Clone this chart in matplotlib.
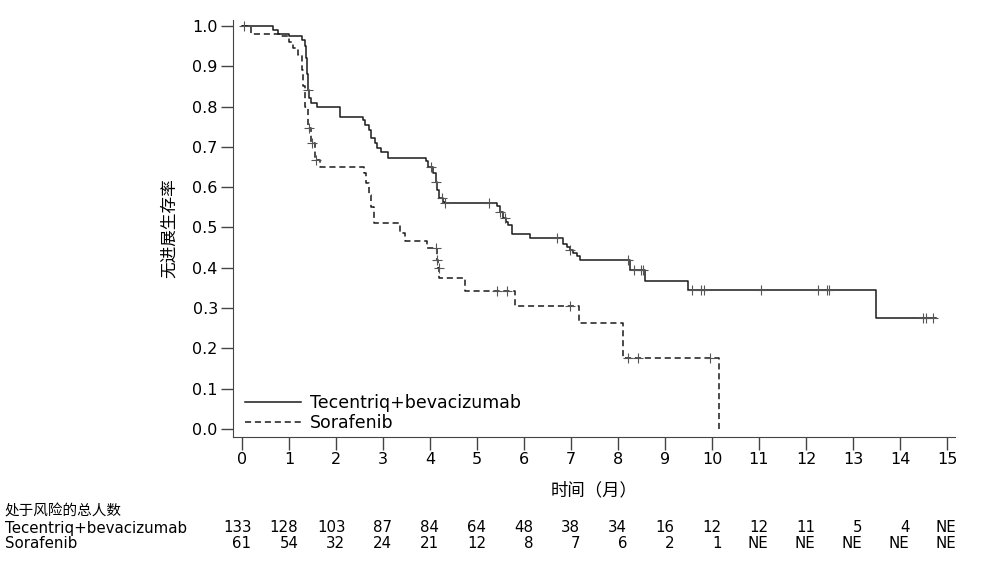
import numpy as np
import matplotlib
matplotlib.use("Agg")
import matplotlib.pyplot as plt
from matplotlib.lines import Line2D
from matplotlib.transforms import blended_transform_factory

plt.rcParams['font.family'] = ['DejaVu Sans', 'Noto Sans CJK SC']

# Kaplan-Meier steps (time in months, survival)
tec_t = [0, 0.66, 0.77, 1.0, 1.27, 1.34, 1.37, 1.39, 1.41, 1.43, 1.47, 1.59,
         2.09, 2.57, 2.61, 2.70, 2.74, 2.83, 2.87, 2.95, 3.11,
         3.91, 3.96, 4.07, 4.13, 4.16, 4.20, 4.27, 4.32,
         5.42, 5.49, 5.55, 5.62, 5.67, 5.74, 6.13,
         6.84, 6.91, 6.98, 7.05, 7.12, 7.19, 8.26, 8.57, 9.50, 13.5, 14.77]
tec_s = [1.0, 0.99, 0.98, 0.975, 0.965, 0.95, 0.92, 0.88, 0.84, 0.82, 0.81, 0.80,
         0.775, 0.767, 0.754, 0.742, 0.722, 0.71, 0.697, 0.688, 0.673,
         0.666, 0.651, 0.634, 0.614, 0.593, 0.572, 0.564, 0.56,
         0.552, 0.539, 0.523, 0.514, 0.506, 0.483, 0.473,
         0.46, 0.452, 0.444, 0.436, 0.428, 0.418, 0.394, 0.368, 0.345, 0.276, 0.276]
tec_cens = [0.05, 1.41, 4.03, 4.13, 4.25, 4.32, 5.26, 5.49, 5.60, 6.70, 6.98,
            8.21, 8.35, 8.50, 8.54, 9.57, 9.77, 9.83, 11.04, 12.26, 12.44, 12.50,
            14.48, 14.55, 14.70]

sor_t = [0, 0.2, 0.82, 1.0, 1.09, 1.19, 1.27, 1.30, 1.35, 1.41, 1.47, 1.55, 1.66,
         2.60, 2.64, 2.70, 2.75, 2.80, 3.36, 3.47, 3.94, 4.15, 4.18, 4.20,
         4.74, 5.81, 7.18, 8.11, 10.15]
sor_s = [1.0, 0.98, 0.975, 0.96, 0.945, 0.928, 0.89, 0.85, 0.80, 0.747, 0.71, 0.667, 0.651,
         0.635, 0.61, 0.58, 0.55, 0.51, 0.487, 0.466, 0.448, 0.42, 0.40, 0.374,
         0.343, 0.304, 0.262, 0.175, 0.0]
sor_cens = [1.43, 1.48, 1.57, 4.13, 4.16, 4.19, 5.42, 5.63, 6.98, 8.22, 8.43, 9.96]

# numbers at risk
risk_times = list(range(16))
tec_risk = ["133", "128", "103", "87", "84", "64", "48", "38", "34", "16", "12",
            "12", "11", "5", "4", "NE"]
sor_risk = ["61", "54", "32", "24", "21", "12", "8", "7", "6", "2", "1",
            "NE", "NE", "NE", "NE", "NE"]


def surv_at(ts, ss, x):
    i = np.searchsorted(ts, x, side='right') - 1
    return ss[i]


col = '#1a1a1a'
fig = plt.figure(figsize=(9.9, 5.69), dpi=100)
ax = fig.add_axes([0.2354, 0.232, 0.7292, 0.733])

ax.step(tec_t, tec_s, where='post', color=col, lw=1.1)
ax.step(sor_t, sor_s, where='post', color=col, lw=1.1, ls=(0, (4, 2.5)))
ax.plot(tec_cens, [surv_at(tec_t, tec_s, c) for c in tec_cens], '+',
        color='#555555', ms=7, mew=0.8)
ax.plot(sor_cens, [surv_at(sor_t, sor_s, c) for c in sor_cens], '+',
        color='#555555', ms=7, mew=0.8)

ax.set_xlim(-0.19, 15.17)
ax.set_ylim(-0.02, 1.015)
ax.set_xticks(range(16))
ax.set_yticks(np.arange(0, 1.01, 0.1))
ax.set_yticklabels([f"{v:.1f}" for v in np.arange(0, 1.01, 0.1)])
for s in ['top', 'right']:
    ax.spines[s].set_visible(False)
for s in ['left', 'bottom']:
    ax.spines[s].set_color('#444444')
ax.tick_params(direction='out', length=9, width=1, colors='#444444',
               labelcolor='black', labelsize=11.5, pad=2)
ax.set_xlabel('时间（月）', fontsize=12.5, family=['Noto Sans CJK SC'], labelpad=10)
ax.set_ylabel('无进展生存率', fontsize=12, family=['Noto Sans CJK SC'], labelpad=10)

handles = [Line2D([], [], color=col, lw=1.1),
           Line2D([], [], color=col, lw=1.1, ls=(0, (4, 2.5)))]
ax.legend(handles, ['Tecentriq+bevacizumab', 'Sorafenib'], loc='lower left',
          bbox_to_anchor=(0.0, -0.018), frameon=False, fontsize=12.5,
          handlelength=3.2, handletextpad=0.55, labelspacing=0.15, borderaxespad=0.3)

# at-risk table
tr = blended_transform_factory(ax.transData, fig.transFigure)
fig.text(0.005, 1 - 511 / 569, '处于风险的总人数', fontsize=10.5,
         family=['Noto Sans CJK SC'], va='center')
fig.text(0.005, 1 - 528 / 569, 'Tecentriq+bevacizumab', fontsize=10.8, va='center')
fig.text(0.005, 1 - 543 / 569, 'Sorafenib', fontsize=10.8, va='center')
for t, a, b in zip(risk_times, tec_risk, sor_risk):
    ax.text(t + 0.2, 1 - 528 / 569, a, transform=tr, ha='right', va='center',
            fontsize=10.8, clip_on=False)
    ax.text(t + 0.2, 1 - 543 / 569, b, transform=tr, ha='right', va='center',
            fontsize=10.8, clip_on=False)

fig.savefig('out.png', dpi=100)
